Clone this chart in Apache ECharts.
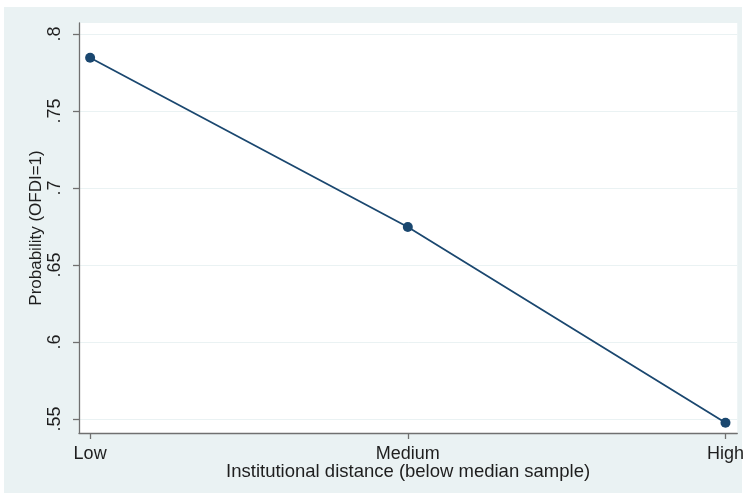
<!DOCTYPE html>
<html>
<head>
<meta charset="utf-8">
<script src="https://cdn.jsdelivr.net/npm/echarts@6/dist/echarts.min.js"></script>
<style>
  html, body { margin: 0; padding: 0; background: #ffffff; }
  #bg { position: absolute; left: 4px; top: 7px; width: 738px; height: 486px; background: #EAF2F3; }
  #chart { position: absolute; left: 0; top: 0; width: 747px; height: 494px; }
</style>
</head>
<body>
<div id="bg"></div>
<div id="chart"></div>
<script>
const categories = ['Low', 'Medium', 'High'];
const probability = [0.7845, 0.6747, 0.5475];
const yTicks = [0.55, 0.6, 0.65, 0.7, 0.75, 0.8];
const yTickLabels = ['.55', '.6', '.65', '.7', '.75', '.8'];
const xTitle = 'Institutional distance (below median sample)';
const yTitle = 'Probability (OFDI=1)';

const chart = echarts.init(document.getElementById('chart'), null, { renderer: 'canvas' });
const font = 'Liberation Sans, Arial, Helvetica, sans-serif';
const xIdx = categories.map((c, i) => i);

chart.setOption({
  animation: false,
  backgroundColor: 'transparent',
  grid: {
    left: 79, right: 8, top: 23, bottom: 61,
    show: true, backgroundColor: '#ffffff', borderWidth: 0
  },
  xAxis: {
    type: 'value',
    min: -0.035, max: 2.037,
    axisLine: { show: true, onZero: false, lineStyle: { color: '#707070', width: 1.3 } },
    axisTick: { show: true, customValues: xIdx, length: 6, lineStyle: { color: '#707070', width: 1.3 } },
    axisLabel: {
      customValues: xIdx,
      formatter: v => categories[Math.round(v)],
      color: '#1e1e1e', fontFamily: font, fontSize: 18, margin: 12
    },
    splitLine: { show: false },
    name: xTitle, nameLocation: 'middle', nameGap: 29, nameMoveOverlap: false,
    nameTextStyle: { color: '#1e1e1e', fontFamily: font, fontSize: 18.5 }
  },
  yAxis: {
    type: 'value',
    min: 0.5409, max: 0.8071,
    axisLine: { show: true, onZero: false, lineStyle: { color: '#707070', width: 1.3 } },
    axisTick: { show: true, customValues: yTicks, length: 6, lineStyle: { color: '#707070', width: 1.3 } },
    axisLabel: {
      customValues: yTicks,
      formatter: v => yTickLabels[yTicks.findIndex(t => Math.abs(t - v) < 1e-6)],
      rotate: 90, color: '#1e1e1e', fontFamily: font, fontSize: 18, margin: 15
    },
    splitLine: { show: true, lineStyle: { color: '#EAF2F3', width: 1 } },
    name: yTitle, nameLocation: 'middle', nameGap: 34, nameRotate: 90, nameMoveOverlap: false,
    nameTextStyle: { color: '#1e1e1e', fontFamily: font, fontSize: 17 }
  },
  series: [{
    type: 'line',
    data: probability.map((v, i) => [xIdx[i], v]),
    symbol: 'circle', symbolSize: 10,
    lineStyle: { color: '#1A476F', width: 1.8 },
    itemStyle: { color: '#1A476F' }
  }]
});
</script>
</body>
</html>
